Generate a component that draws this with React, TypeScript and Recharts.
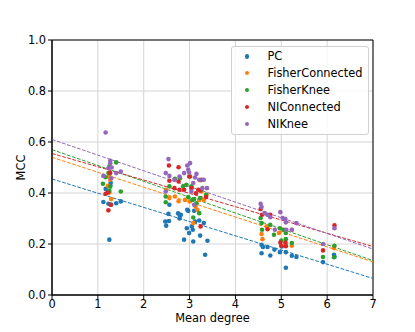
import {
  ScatterChart,
  Scatter,
  XAxis,
  YAxis,
  CartesianGrid,
  ReferenceLine,
  ReferenceArea,
  Legend,
} from 'recharts';

const FONT = 'DejaVu Sans, sans-serif';
const FS = 11.4;

const xTicks = [0, 1, 2, 3, 4, 5, 6, 7];
const yTicks = [0, 0.2, 0.4, 0.6, 0.8, 1.0];

// [mean degree, MCC]
const pcPoints: [number, number][] = [
  [1.12, 0.365], [1.17, 0.416], [1.23, 0.358], [1.25, 0.217], [1.28, 0.44], [1.27, 0.43],
  [1.29, 0.354], [1.4, 0.36], [1.5, 0.367],
  [2.47, 0.288], [2.49, 0.272], [2.55, 0.29], [2.54, 0.318], [2.56, 0.354], [2.75, 0.32],
  [2.81, 0.315], [2.78, 0.3], [2.94, 0.262], [2.88, 0.217], [2.99, 0.243], [3.05, 0.269],
  [3.08, 0.21], [3.07, 0.256], [3.12, 0.288], [3.21, 0.292], [3.23, 0.233], [3.31, 0.282],
  [3.39, 0.213], [3.34, 0.158], [2.95, 0.334], [3.1, 0.33], [2.97, 0.33], [2.79, 0.31],
  [4.57, 0.197], [4.57, 0.164], [4.6, 0.188], [4.7, 0.188], [4.76, 0.155], [4.85, 0.178],
  [4.97, 0.168], [5.01, 0.19], [5.1, 0.107], [5.1, 0.168], [5.23, 0.154], [5.33, 0.149],
  [5.91, 0.129], [6.15, 0.158], [6.16, 0.15],
];

const fisherConnectedPoints: [number, number][] = [
  [1.25, 0.465], [1.27, 0.452], [1.22, 0.428], [1.25, 0.402], [1.29, 0.376],
  [2.49, 0.413], [2.56, 0.38], [2.68, 0.386], [2.76, 0.368], [2.9, 0.373], [3.0, 0.367],
  [3.08, 0.282], [3.13, 0.347], [3.17, 0.334], [3.21, 0.373], [3.26, 0.406], [3.31, 0.373],
  [3.23, 0.45], [3.37, 0.393],
  [4.57, 0.239], [4.59, 0.219], [4.68, 0.269], [4.95, 0.243], [5.03, 0.256], [5.1, 0.197],
  [5.23, 0.193], [5.23, 0.256], [6.15, 0.184],
];

const fisherKneePoints: [number, number][] = [
  [1.11, 0.436], [1.17, 0.462], [1.23, 0.478], [1.25, 0.504], [1.4, 0.52], [1.25, 0.409],
  [1.5, 0.406], [1.27, 0.425],
  [2.48, 0.386], [2.48, 0.364], [2.56, 0.426], [2.68, 0.456], [2.79, 0.458], [2.86, 0.426],
  [2.93, 0.432], [2.97, 0.384], [3.06, 0.373], [3.08, 0.304], [3.1, 0.376], [3.15, 0.36],
  [3.21, 0.321], [3.25, 0.413], [3.36, 0.393], [3.23, 0.38], [2.99, 0.465], [3.04, 0.426],
  [4.55, 0.302], [4.58, 0.256], [4.57, 0.282], [4.76, 0.275], [4.84, 0.236], [4.97, 0.262],
  [5.0, 0.214], [5.05, 0.256], [5.1, 0.219], [5.1, 0.243], [5.23, 0.204], [5.91, 0.149],
  [6.15, 0.148], [6.16, 0.193],
];

const niConnectedPoints: [number, number][] = [
  [1.17, 0.397], [1.22, 0.402], [1.23, 0.332], [1.28, 0.354], [1.27, 0.478],
  [2.55, 0.508], [2.56, 0.448], [2.67, 0.419], [2.76, 0.501], [2.76, 0.445], [2.78, 0.413],
  [2.88, 0.413], [3.01, 0.465], [3.04, 0.419], [3.14, 0.399], [3.19, 0.413], [3.23, 0.41],
  [3.24, 0.269], [3.36, 0.384], [3.26, 0.452],
  [4.55, 0.337], [4.58, 0.315], [4.7, 0.258], [4.76, 0.315], [4.98, 0.206], [5.0, 0.193],
  [5.09, 0.206], [5.1, 0.191], [5.91, 0.175], [6.16, 0.273],
];

const niKneePoints: [number, number][] = [
  [1.17, 0.637], [1.12, 0.467], [1.23, 0.497], [1.27, 0.526], [1.27, 0.517], [1.29, 0.458],
  [1.3, 0.5], [1.4, 0.478], [1.5, 0.484],
  [2.48, 0.478], [2.48, 0.406], [2.54, 0.533], [2.56, 0.467], [2.67, 0.452], [2.78, 0.465],
  [2.88, 0.478], [2.95, 0.508], [2.99, 0.48], [3.01, 0.517], [3.08, 0.439], [3.12, 0.461],
  [3.15, 0.475], [3.21, 0.452], [3.31, 0.452], [3.28, 0.419], [3.38, 0.419], [3.04, 0.406],
  [3.1, 0.354], [2.97, 0.491],
  [4.55, 0.358], [4.57, 0.345], [4.64, 0.321], [4.7, 0.315], [4.76, 0.305], [4.86, 0.256],
  [4.98, 0.325], [5.03, 0.302], [5.09, 0.298], [5.1, 0.285], [5.11, 0.256], [5.23, 0.256],
  [5.33, 0.282], [5.91, 0.2], [6.16, 0.262],
];

// fitted line: MCC at mean degree 0 and 7
const pcFit = [0.455, 0.065];
const fisherConnectedFit = [0.54, 0.13];
const fisherKneeFit = [0.57, 0.135];
const niConnectedFit = [0.555, 0.19];
const niKneeFit = [0.61, 0.18];

const series = [
  { name: 'PC', color: '#1f77b4', points: pcPoints, fit: pcFit },
  { name: 'FisherConnected', color: '#ff7f0e', points: fisherConnectedPoints, fit: fisherConnectedFit },
  { name: 'FisherKnee', color: '#2ca02c', points: fisherKneePoints, fit: fisherKneeFit },
  { name: 'NIConnected', color: '#d62728', points: niConnectedPoints, fit: niConnectedFit },
  { name: 'NIKnee', color: '#9467bd', points: niKneePoints, fit: niKneeFit },
];

const tickStyle = { fill: '#000', fontSize: FS, fontFamily: FONT };

function LegendBox() {
  return (
    <div
      style={{
        width: 136,
        height: 86,
        background: 'rgba(255,255,255,0.85)',
        border: '1px solid #d0d0d0',
        borderRadius: 3,
        paddingTop: 1,
        boxSizing: 'content-box',
        fontFamily: FONT,
        fontSize: FS,
        color: '#000',
      }}
    >
      {series.map(s => (
        <div key={s.name} style={{ position: 'relative', height: 16.9, lineHeight: '16.9px' }}>
          <span
            style={{
              position: 'absolute',
              left: 12.5,
              top: 6.2,
              width: 4.4,
              height: 4.4,
              borderRadius: '50%',
              background: s.color,
            }}
          />
          <span style={{ position: 'absolute', left: 35.5 }}>{s.name}</span>
        </div>
      ))}
    </div>
  );
}

export default function App() {
  return (
    <div style={{ position: 'fixed', left: 0, top: 0, width: 415, height: 332, background: '#fff' }}>
      <ScatterChart width={415} height={332} margin={{ top: 40, right: 42, bottom: 0, left: 0 }}>
        <CartesianGrid stroke="#d4d4d4" strokeWidth={1} />
        <XAxis
          type="number"
          dataKey="x"
          domain={[0, 7]}
          ticks={xTicks}
          allowDataOverflow
          height={37}
          tick={tickStyle}
          tickSize={4}
          tickMargin={1}
          axisLine={{ stroke: '#000' }}
          tickLine={{ stroke: '#000' }}
          label={{ value: 'Mean degree', position: 'insideBottom', offset: 10, fill: '#000', fontSize: FS, fontFamily: FONT }}
        />
        <YAxis
          type="number"
          dataKey="y"
          domain={[0, 1]}
          ticks={yTicks}
          allowDataOverflow
          width={52}
          tick={tickStyle}
          tickSize={4}
          tickMargin={2}
          tickFormatter={(v: number) => v.toFixed(1)}
          axisLine={{ stroke: '#000' }}
          tickLine={{ stroke: '#000' }}
          label={{
            content: (props: any) => {
              const vb = props.viewBox || { x: 0, y: 40, height: 255 };
              const cx = vb.x + 21;
              const cy = vb.y + vb.height / 2;
              return (
                <text
                  x={cx}
                  y={cy}
                  transform={`rotate(-90 ${cx} ${cy})`}
                  textAnchor="middle"
                  dominantBaseline="central"
                  fill="#000"
                  fontSize={FS}
                  fontFamily={FONT}
                >
                  MCC
                </text>
              );
            },
          }}
        />
        {series.map(s => (
          <Scatter
            key={s.name}
            name={s.name}
            data={s.points.map(([x, y]) => ({ x, y }))}
            fill={s.color}
            isAnimationActive={false}
            shape={(p: any) => <circle cx={p.cx} cy={p.cy} r={2.3} fill={s.color} />}
          />
        ))}
        {series.map(s => (
          <ReferenceLine
            key={s.name + '-fit'}
            segment={[{ x: 0, y: s.fit[0] }, { x: 7, y: s.fit[1] }]}
            stroke={s.color}
            strokeWidth={1}
            strokeDasharray="3.7 1.6"
            ifOverflow="visible"
          />
        ))}
        <ReferenceArea x1={0} x2={7} y1={0} y2={1} fill="none" stroke="#000" strokeWidth={1} ifOverflow="visible" />
        <Legend
          layout="vertical"
          align="center"
          verticalAlign="middle"
          wrapperStyle={{ left: 231, top: 46, width: 138, height: 88 }}
          content={() => <LegendBox />}
        />
      </ScatterChart>
    </div>
  );
}
